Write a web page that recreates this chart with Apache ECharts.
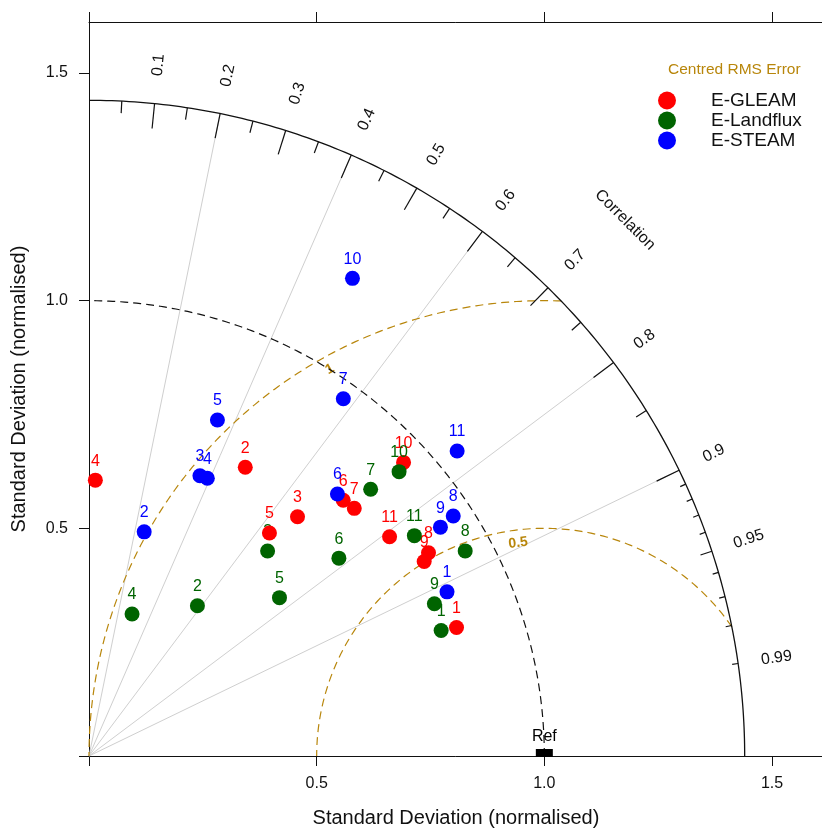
<!DOCTYPE html>
<html>
<head>
<meta charset="utf-8">
<script src="https://cdn.jsdelivr.net/npm/echarts@6/dist/echarts.min.js"></script>
<style>html,body{margin:0;padding:0;background:#fff}#c{width:822px;height:828px}</style>
</head>
<body>
<div id="c"></div>
<script>
// ---- data (normalised standard deviation and correlation per site) ----
const sites = [1, 2, 3, 4, 5, 6, 7, 8, 9, 10, 11];
const gleamSD      = [0.855, 0.721, 0.697, 0.606, 0.630, 0.792, 0.797, 0.869, 0.851, 0.945, 0.817];
const gleamCor     = [0.944, 0.476, 0.657, 0.023, 0.629, 0.705, 0.731, 0.858, 0.865, 0.731, 0.808];
const landfluxSD   = [0.821, 0.407, 0.597, 0.326, 0.544, 0.700, 0.852, 0.941, 0.829, 0.924, 0.863];
const landfluxCor  = [0.942, 0.585, 0.657, 0.290, 0.769, 0.784, 0.726, 0.878, 0.915, 0.737, 0.828];
const steamSD      = [0.865, 0.507, 0.662, 0.663, 0.790, 0.793, 0.963, 0.958, 0.921, 1.198, 1.050];
const steamCor     = [0.909, 0.239, 0.368, 0.392, 0.357, 0.688, 0.580, 0.835, 0.838, 0.483, 0.770];

const refSD = 1.0;
const sdTicks = [0, 0.5, 1.0, 1.5];
const sdLabels = [0.5, 1.0, 1.5];
const corLabels = [0.1, 0.2, 0.3, 0.4, 0.5, 0.6, 0.7, 0.8, 0.9, 0.95, 0.99];
const corMajor  = [0.1, 0.2, 0.3, 0.4, 0.5, 0.6, 0.7, 0.8, 0.9];
const corMedium = [0.05, 0.15, 0.25, 0.35, 0.45, 0.55, 0.65, 0.75, 0.85, 0.95];
const corMinor  = [0.91, 0.92, 0.93, 0.94, 0.96, 0.97, 0.98, 0.99];
const corGrid   = [0.2, 0.4, 0.6, 0.8, 0.9];
const rmsLevels = [0.5, 1.0];
const rmsLabelAngle = [97, 119]; // degrees around the reference point

const R_MAX = 1.44;
const AXIS_MAX = 1.612;
const GOLD = '#B8860B';
const FONT = '"Liberation Sans", Arial, sans-serif';
const TXT = '#111';

function polar(r, c) { return [r * c, r * Math.sqrt(Math.max(0, 1 - c * c))]; }

function renderDecor(params, api) {
  const P = (x, y) => api.coord([x, y]);
  const o = P(0, 0);
  const scale = P(1, 0)[0] - o[0];
  const ch = [];
  // correlation grid lines
  corGrid.forEach(c => {
    const b = P(...polar(R_MAX, c));
    ch.push({type: 'line', shape: {x1: o[0], y1: o[1], x2: b[0], y2: b[1]},
      style: {stroke: '#cfcfcf', lineWidth: 1}});
  });
  function arcPts(cx, cy, rad, t0, t1) {
    const n = 180, pts = [];
    for (let i = 0; i <= n; i++) {
      const t = t0 + (t1 - t0) * i / n;
      pts.push(P(cx + rad * Math.cos(t), cy + rad * Math.sin(t)));
    }
    return pts;
  }
  // RMS arcs around reference
  rmsLevels.forEach((rho, k) => {
    const cs = Math.min(1, (R_MAX * R_MAX - refSD * refSD - rho * rho) / (2 * rho * refSD));
    const t0 = Math.acos(cs);
    ch.push({type: 'polyline', shape: {points: arcPts(refSD, 0, rho, t0, Math.PI)},
      style: {stroke: GOLD, lineWidth: 1.2, lineDash: [8, 5], fill: null}});
    const th = rmsLabelAngle[k] * Math.PI / 180;
    const rr = rho - 13 / scale;
    const lp = P(refSD + rr * Math.cos(th), rr * Math.sin(th));
    ch.push({type: 'text', x: lp[0], y: lp[1], rotation: th - Math.PI / 2,
      style: {text: String(rho), fill: GOLD, font: 'bold 14px ' + FONT, align: 'center', verticalAlign: 'middle'}});
  });
  // reference SD arc
  ch.push({type: 'polyline', shape: {points: arcPts(0, 0, refSD, 0, Math.PI / 2)},
    style: {stroke: '#111', lineWidth: 1.2, lineDash: [8, 5], fill: null}});
  // outer arc
  ch.push({type: 'polyline', shape: {points: arcPts(0, 0, R_MAX, 0, Math.PI / 2)},
    style: {stroke: '#111', lineWidth: 1.3, fill: null}});
  function ticks(list, len) {
    list.forEach(c => {
      const a = P(...polar(R_MAX, c));
      const b = P(...polar(R_MAX - len / scale, c));
      ch.push({type: 'line', shape: {x1: a[0], y1: a[1], x2: b[0], y2: b[1]},
        style: {stroke: '#111', lineWidth: 1.2}});
    });
  }
  ticks(corMajor, 25); ticks(corMedium, 12); ticks(corMinor, 6);
  corLabels.forEach(c => {
    const p = P(...polar(1.525, c));
    ch.push({type: 'text', x: p[0], y: p[1], rotation: Math.acos(c),
      style: {text: String(c), fill: TXT, font: '16px ' + FONT, align: 'center', verticalAlign: 'middle'}});
  });
  const cp = P(...polar(1.665, Math.SQRT1_2));
  ch.push({type: 'text', x: cp[0], y: cp[1], rotation: -Math.PI / 4,
    style: {text: 'Correlation', fill: TXT, font: '16px ' + FONT, align: 'center', verticalAlign: 'middle'}});
  return {type: 'group', children: ch};
}

function makeSeries(name, sdArr, corArr, color, mi) {
  return {
    type: 'custom', name: name, coordinateSystem: 'cartesian2d', z: 3, clip: false,
    itemStyle: {color: color},
    data: sdArr.map((s, i) => [s * corArr[i], s * Math.sqrt(1 - corArr[i] * corArr[i]), sites[i]]),
    renderItem: function (params, api) {
      const p = api.coord([api.value(0), api.value(1)]);
      const site = api.value(2);
      return {type: 'group', children: [
        {type: 'circle', shape: {cx: p[0], cy: p[1], r: 7.5}, style: {fill: color}, z2: site * 10 + mi * 3},
        {type: 'text', x: p[0], y: p[1] - 19, z2: site * 10 + mi * 3 + 1,
          style: {text: String(site), fill: color, font: '16px ' + FONT, align: 'center', verticalAlign: 'middle'}}
      ]};
    }
  };
}

const axisCommon = {
  type: 'value', min: 0, max: AXIS_MAX, interval: 0.5,
  axisLine: {show: true, onZero: false, lineStyle: {color: '#111', width: 1}},
  axisTick: {show: true, inside: false, length: 10, customValues: sdTicks, lineStyle: {color: '#111', width: 1}},
  splitLine: {show: false}
};

const chart = echarts.init(document.getElementById('c'), null, {renderer: 'canvas'});
chart.setOption({
  animation: false,
  backgroundColor: '#fff',
  textStyle: {fontFamily: FONT},
  title: {text: 'Centred RMS Error', left: 668, top: 62, padding: 0,
    textStyle: {color: GOLD, fontSize: 15.5, fontWeight: 'normal', fontFamily: FONT}},
  legend: {
    orient: 'vertical', left: 658, top: 91, padding: 0, itemGap: 1,
    itemWidth: 18, itemHeight: 18, icon: 'circle',
    textStyle: {fontSize: 19, color: TXT, fontFamily: FONT, padding: [0, 0, 0, 30]},
    data: ['E-GLEAM', 'E-Landflux', 'E-STEAM']
  },
  grid: {left: 89, top: 22, width: 734, height: 734, containLabel: false, outerBoundsMode: 'none'},
  xAxis: [
    Object.assign({}, axisCommon, {
      position: 'bottom',
      name: 'Standard Deviation (normalised)', nameLocation: 'middle', nameGap: 52,
      nameTextStyle: {fontSize: 20, color: TXT, fontFamily: FONT},
      axisLabel: {show: true, customValues: sdLabels, margin: 20, fontSize: 16, color: TXT,
        formatter: v => Number(v).toFixed(1)}
    }),
    Object.assign({}, axisCommon, {position: 'top', axisLabel: {show: false}})
  ],
  yAxis: [
    Object.assign({}, axisCommon, {
      position: 'left',
      name: 'Standard Deviation (normalised)', nameLocation: 'middle', nameGap: 60,
      nameTextStyle: {fontSize: 20, color: TXT, fontFamily: FONT},
      axisLabel: {show: true, customValues: sdLabels, margin: 21, fontSize: 16, color: TXT,
        formatter: v => Number(v).toFixed(1)}
    }),
    Object.assign({}, axisCommon, {position: 'right', axisLabel: {show: false}})
  ],
  series: [
    {type: 'custom', name: 'decor', coordinateSystem: 'cartesian2d', z: 1, silent: true, clip: false,
      data: [[0, 0]], renderItem: renderDecor},
    {type: 'scatter', name: 'Ref', z: 2, clip: false, silent: true,
      data: [[refSD, 0]], symbol: 'rect', symbolSize: [17, 8], symbolOffset: [0, -3],
      itemStyle: {color: '#000', opacity: 1},
      label: {show: true, formatter: 'Ref', position: 'top', distance: 4, fontSize: 16, color: '#000', opacity: 1, fontFamily: FONT}},
    makeSeries('E-GLEAM', gleamSD, gleamCor, '#FF0000', 0),
    makeSeries('E-Landflux', landfluxSD, landfluxCor, '#006400', 1),
    makeSeries('E-STEAM', steamSD, steamCor, '#0000FF', 2)
  ]
});
</script>
</body>
</html>
